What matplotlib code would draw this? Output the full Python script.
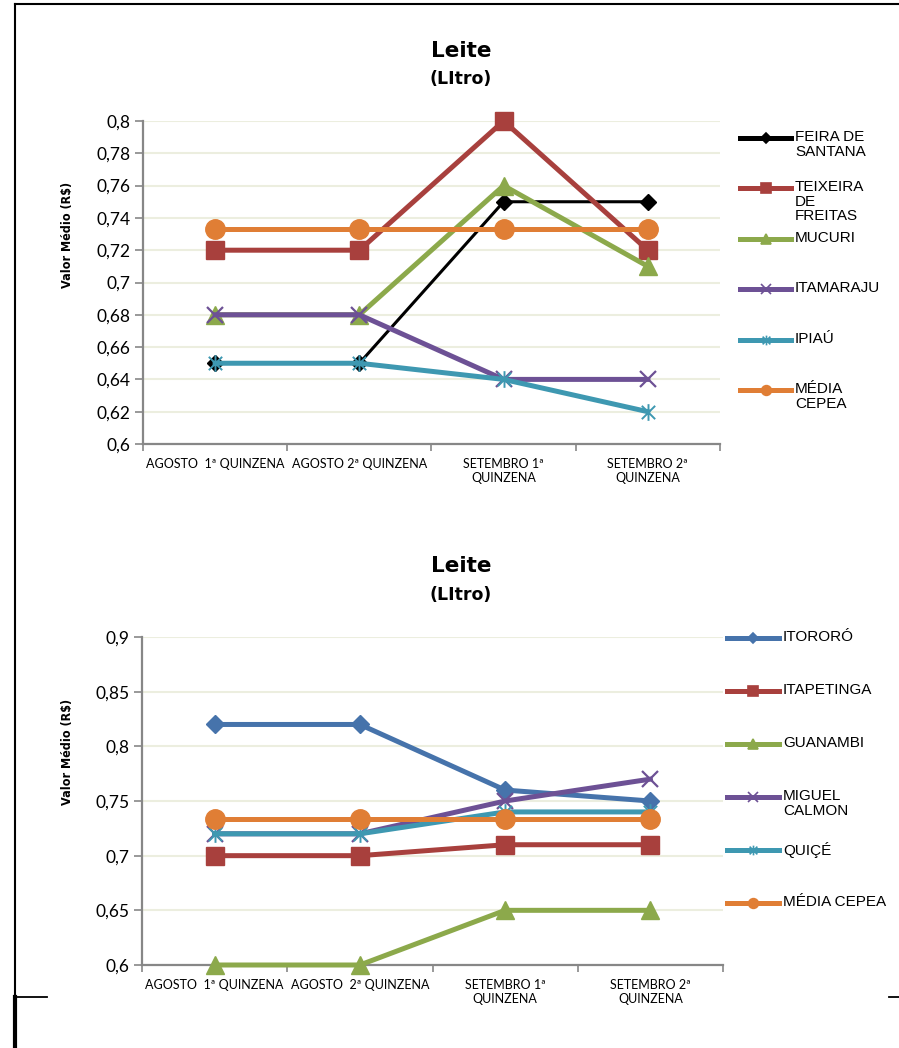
import matplotlib
matplotlib.use("Agg")
import matplotlib.pyplot as plt
from matplotlib.path import Path
from matplotlib.lines import Line2D

# ---------------- data ----------------
categories_top = ["AGOSTO  1ª QUINZENA", "AGOSTO 2ª QUINZENA",
                  "SETEMBRO 1ª\nQUINZENA", "SETEMBRO 2ª\nQUINZENA"]
categories_bot = ["AGOSTO  1ª QUINZENA", "AGOSTO  2ª QUINZENA",
                  "SETEMBRO 1ª\nQUINZENA", "SETEMBRO 2ª\nQUINZENA"]

top_names = ["FEIRA DE\nSANTANA", "TEIXEIRA\nDE\nFREITAS", "MUCURI",
             "ITAMARAJU", "IPIAÚ", "MÉDIA\nCEPEA"]
feira = [0.65, 0.65, 0.75, 0.75]
teixeira = [0.72, 0.72, 0.80, 0.72]
mucuri = [0.68, 0.68, 0.76, 0.71]
itamaraju = [0.68, 0.68, 0.64, 0.64]
ipiau = [0.65, 0.65, 0.64, 0.62]
media_top = [0.7334, 0.7334, 0.7334, 0.7334]
top_values = [feira, teixeira, mucuri, itamaraju, ipiau, media_top]

bot_names = ["ITORORÓ", "ITAPETINGA", "GUANAMBI", "MIGUEL\nCALMON",
             "QUIÇÉ", "MÉDIA CEPEA"]
itororo = [0.82, 0.82, 0.76, 0.75]
itapetinga = [0.70, 0.70, 0.71, 0.71]
guanambi = [0.60, 0.60, 0.65, 0.65]
miguel = [0.72, 0.72, 0.75, 0.77]
quice = [0.72, 0.72, 0.74, 0.74]
media_bot = [0.7334, 0.7334, 0.7334, 0.7334]
bot_values = [itororo, itapetinga, guanambi, miguel, quice, media_bot]

top_yticks = [0.6, 0.62, 0.64, 0.66, 0.68, 0.7, 0.72, 0.74, 0.76, 0.78, 0.8]
top_ylabels = ["0,6", "0,62", "0,64", "0,66", "0,68", "0,7", "0,72",
               "0,74", "0,76", "0,78", "0,8"]
bot_yticks = [0.6, 0.65, 0.7, 0.75, 0.8, 0.85, 0.9]
bot_ylabels = ["0,6", "0,65", "0,7", "0,75", "0,8", "0,85", "0,9"]

# ---------------- styles ----------------
star = Path([(-1, -1), (1, 1), (-1, 1), (1, -1), (0, -1.25), (0, 1.25)],
            [Path.MOVETO, Path.LINETO, Path.MOVETO, Path.LINETO,
             Path.MOVETO, Path.LINETO])

BLACK = "#000000"
RED = "#A8403D"
GREEN = "#8CA94B"
PURPLE = "#6D5195"
TEAL = "#3E98B1"
ORANGE = "#E07E35"
BLUE = "#4673AB"

top_styles = [
    dict(color=BLACK, lw=2.2, marker="D", ms=8.5),
    dict(color=RED, lw=3.6, marker="s", ms=13.5),
    dict(color=GREEN, lw=3.6, marker="^", ms=13),
    dict(color=PURPLE, lw=3.6, marker="x", ms=12, mew=1.6),
    dict(color=TEAL, lw=3.6, marker=star, ms=12, mew=1.4, mfc="none"),
    dict(color=ORANGE, lw=3.6, marker="o", ms=14),
]
bot_styles = [
    dict(color=BLUE, lw=3.6, marker="D", ms=9.5),
    dict(color=RED, lw=3.6, marker="s", ms=13.5),
    dict(color=GREEN, lw=3.6, marker="^", ms=13),
    dict(color=PURPLE, lw=3.6, marker="x", ms=12, mew=1.6),
    dict(color=TEAL, lw=3.6, marker=star, ms=12, mew=1.4, mfc="none"),
    dict(color=ORANGE, lw=3.6, marker="o", ms=14),
]

W, H = 899, 1048
fig = plt.figure(figsize=(W / 100, H / 100), dpi=100)

TICKFONT = "Lato"
GRID = "#ECEEDF"
AXC = "#878787"


def px_axes(l, t, r, b):
    return fig.add_axes([l / W, 1 - b / H, (r - l) / W, (b - t) / H])


def setup(ax, values, styles, cats, yticks, ylabels):
    xs = list(range(len(cats)))
    for vals, st in zip(values, styles):
        st = dict(st)
        ax.plot(xs, vals, color=st.pop("color"), lw=st.pop("lw"),
                marker=st.pop("marker"), ms=st.pop("ms"),
                mec=None, zorder=3, clip_on=False, solid_joinstyle="miter",
                **({"markeredgewidth": st.pop("mew")} if "mew" in st else {}),
                **({"markerfacecolor": st.pop("mfc")} if "mfc" in st else {}))
    ax.set_xlim(-0.5, len(cats) - 0.5)
    ax.set_ylim(yticks[0], yticks[-1])
    ax.set_yticks(yticks)
    ax.set_yticklabels(ylabels, fontfamily=TICKFONT, fontsize=12.5)
    ax.set_xticks(xs)
    ax.set_xticklabels(cats, fontfamily=TICKFONT, fontsize=9, linespacing=1.25)
    ax.set_xticks([x - 0.5 for x in range(len(cats) + 1)], minor=True)
    ax.tick_params(axis="x", which="major", length=0, pad=10)
    ax.tick_params(axis="x", which="minor", length=5, width=1.2, color=AXC,
                   direction="out")
    ax.tick_params(axis="y", length=6, width=1.2, color=AXC, pad=3)
    for s in ("top", "right"):
        ax.spines[s].set_visible(False)
    for s in ("left", "bottom"):
        ax.spines[s].set_color(AXC)
        ax.spines[s].set_linewidth(1.6)
    ax.yaxis.grid(True, color=GRID, lw=1.5)
    ax.set_axisbelow(True)


def legend(names, styles, x0, x1, y0, step, fs):
    for i, (name, st) in enumerate(zip(names, styles)):
        y = 1 - (y0 + i * step) / H
        ln = Line2D([x0 / W, x1 / W], [y, y], transform=fig.transFigure,
                    color=st["color"], lw=3.6)
        fig.add_artist(ln)
        mk = Line2D([(x0 + x1) / 2 / W], [y], transform=fig.transFigure,
                    color=st["color"], marker=st["marker"],
                    ms=7 if st["marker"] != "D" else 5.5, lw=0,
                    mfc=st.get("mfc", st["color"]), mew=1.2)
        fig.add_artist(mk)
        fig.text((x1 + 4) / W, 1 - (y0 + i * step - 8) / H, name,
                 fontfamily="Liberation Sans", fontsize=fs, va="top",
                 ha="left", linespacing=1.05)


# ---- top chart ----
ax1 = px_axes(143, 121, 720, 444)
setup(ax1, top_values, top_styles, categories_top, top_yticks, top_ylabels)
legend(top_names, top_styles, 740, 791, 138, 50.4, 11)

fig.text(461 / W, 1 - 51 / H, "Leite", ha="center", va="center",
         fontweight="bold", fontsize=15.5, fontfamily="DejaVu Sans")
fig.text(461 / W, 1 - 79 / H, "(LItro)", ha="center", va="center",
         fontweight="bold", fontsize=12.5, fontfamily="DejaVu Sans")
fig.text(67 / W, 1 - 235 / H, "Valor Médio (R$)", rotation=90,
         ha="center", va="center", fontweight="bold", fontsize=9,
         fontfamily="DejaVu Sans", fontstretch="condensed")

# ---- bottom chart ----
ax2 = px_axes(142, 637, 723, 965)
setup(ax2, bot_values, bot_styles, categories_bot, bot_yticks, bot_ylabels)
legend(bot_names, bot_styles, 727, 779, 638, 53, 11)

fig.text(461 / W, 1 - 566 / H, "Leite", ha="center", va="center",
         fontweight="bold", fontsize=15.5, fontfamily="DejaVu Sans")
fig.text(461 / W, 1 - 595 / H, "(LItro)", ha="center", va="center",
         fontweight="bold", fontsize=12.5, fontfamily="DejaVu Sans")
fig.text(67 / W, 1 - 752 / H, "Valor Médio (R$)", rotation=90,
         ha="center", va="center", fontweight="bold", fontsize=9,
         fontfamily="DejaVu Sans", fontstretch="condensed")

# ---- page frame ----
frame = [
    ([15, 899], [4, 4], 1.5),
    ([15, 15], [4, 1048], 1.5),
    ([15, 47], [997, 997], 1.3),
    ([15, 15], [997, 1048], 3.0),
    ([889, 899], [997, 997], 1.3),
]
for xs, ys, lw in frame:
    fig.add_artist(Line2D([x / W for x in xs], [1 - y / H for y in ys],
                          transform=fig.transFigure, color="black", lw=lw))

fig.savefig("out.png", dpi=100)
